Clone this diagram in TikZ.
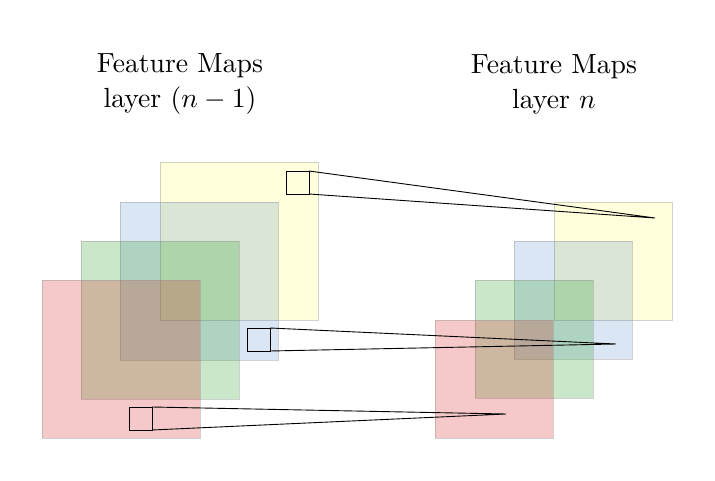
\documentclass[tikz,border=0pt]{standalone}
\usepackage{tikz}
\definecolor{cRed}{RGB}{214,39,40}
\definecolor{cGreen}{RGB}{44,160,44}
\definecolor{cBlue}{RGB}{60,120,190}
\definecolor{cYellow}{RGB}{255,255,60}
\definecolor{cEdge}{RGB}{150,150,150}
\tikzset{
  fmap/.style={draw=cEdge, draw opacity=0.45, line width=0.8pt, fill opacity=0.25, inner sep=0pt, outer sep=0pt, minimum size=#1, anchor=north west},
  kbox/.style={draw=black, line width=0.95pt, inner sep=0pt, outer sep=0pt, minimum size=23pt, anchor=north west},
  conn/.style={draw=black, line width=0.9pt},
  title/.style={align=center, scale=2.77, font=\fontsize{10}{12.64}\selectfont}
}
\begin{document}
\begin{tikzpicture}[x=1pt,y=-1pt]
\useasboundingbox (0,0) rectangle (715,481);
% titles
\node[title] (t1) at (180,84) {Feature Maps\\layer $(n-1)$};
\node[title] (t2) at (554,84) {Feature Maps\\layer $n$};
% left stack
\node[fmap=158pt, fill=cYellow, fill opacity=0.18] (ly) at (160,162) {};
\node[fmap=158pt, fill=cBlue, fill opacity=0.19] (lb) at (120,202) {};
\node[fmap=158pt, fill=cGreen] (lg) at (81,241) {};
\node[fmap=158pt, fill=cRed] (lr) at (42,280) {};
% right stack
\node[fmap=118pt, fill=cYellow, fill opacity=0.18] (ry) at (554,202) {};
\node[fmap=118pt, fill=cBlue, fill opacity=0.19] (rb) at (514,241) {};
\node[fmap=118pt, fill=cGreen] (rg) at (475,280) {};
\node[fmap=118pt, fill=cRed] (rr) at (435,320) {};
% kernels
\node[kbox] (ky) at (286,171) {};
\node[kbox] (kb) at (247,328) {};
\node[kbox] (kr) at (129,407) {};
% targets
\coordinate (py) at (655,218);
\coordinate (pb) at (616,344);
\coordinate (pr) at (506,414);
% connectors
\draw[conn] (ky.north east) -- (py) -- (ky.south east);
\draw[conn] (kb.north east) -- (pb) -- (kb.south east);
\draw[conn] (kr.north east) -- (pr) -- (kr.south east);
\end{tikzpicture}
\end{document}
